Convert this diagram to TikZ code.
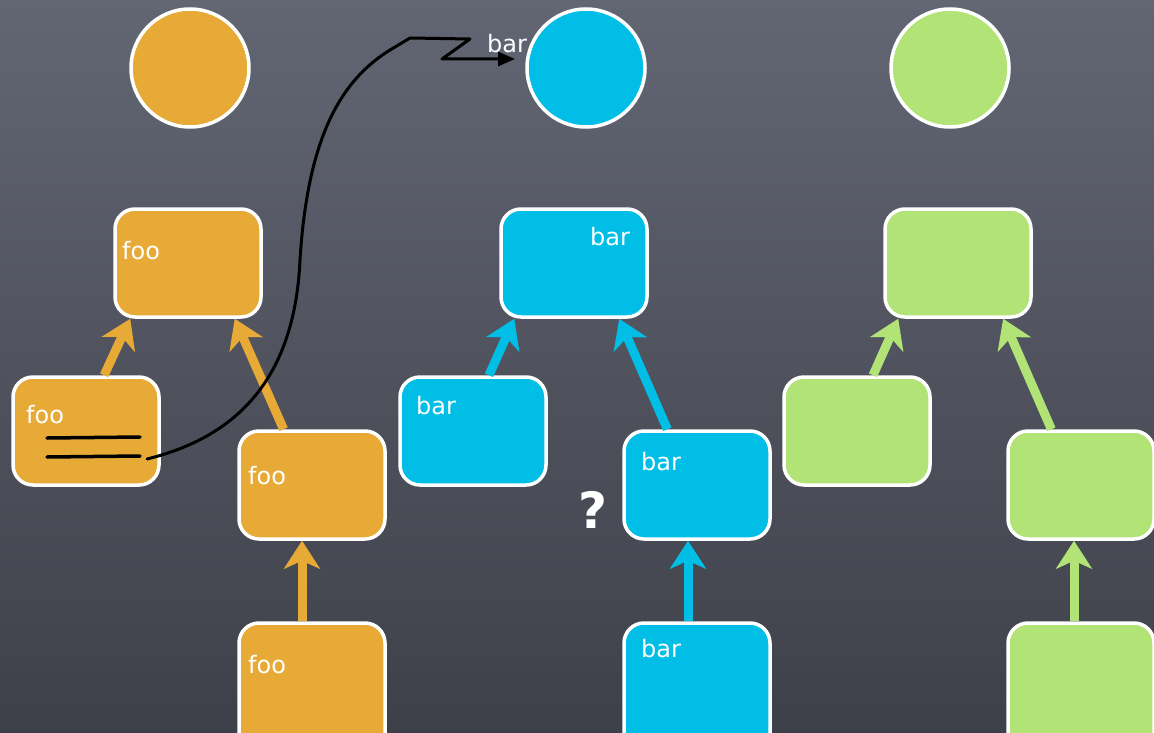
\documentclass[tikz,border=0pt]{standalone}
\usepackage{fontspec}
\setmainfont{DejaVu Sans}
\usetikzlibrary{arrows.meta,calc,positioning,shapes}
\tikzset{
  boxnode/.style = {draw=white, line width=3.5pt, rounded corners=20pt, minimum width=146pt,
  minimum height=108pt, inner sep=0pt},
  circnode/.style = {draw=white, line width=3.5pt, circle, minimum size=118pt, inner sep=0pt},
  lbl/.style = {anchor=base west, inner sep=0pt, text=white, font=\fontsize{24}{28}\selectfont},
  up/.style = {line width=9pt, -{Stealth[length=28pt,width=36pt,inset=8pt]}},
  scribble/.style = {black, line width=3pt, line cap=round, line join=round}
}
\definecolor{my_board_top}{RGB}{98,102,115}
\definecolor{my_board_bot}{RGB}{62,64,73}
\definecolor{my_orange}{RGB}{232,170,54}
\definecolor{my_blue}{RGB}{0,190,230}
\definecolor{my_green}{RGB}{178,227,118}
\begin{document}
\begin{tikzpicture}[x=1pt,y=-1pt,
        	orange/.style={fill=my_orange},
        	blue/.style={fill=my_blue},
        	green/.style={fill=my_green},
        	bottom/.style={minimum height=130pt}]
  \shade[top color=my_board_top, bottom color=my_board_bot] (0,0) rectangle (1154,733);
  \useasboundingbox (0,0) rectangle (1154,733);
  \clip (0,0) rectangle (1154,733);

  % circles
  \node [circnode, orange] (oc) at (190,68) {};
  \node [circnode, blue] (bc) at (586,68) {};
  \node [circnode, green] (gc) at (950,68) {};

  % orange
  \node [boxnode, orange] (ot) at (188,263) {};
  \node [boxnode, orange] (ol) at (86,431) {};
  \node [boxnode, orange] (om) at (312,485) {};
  \node [boxnode, orange, bottom] (ob) at (312,688) {};
  \node [lbl] (ot-txt) at (122,259) {foo};
  \node [lbl] (ol-txt) at (26,423) {foo};
  \node [lbl] (om-txt) at (248,484) {foo};
  \node [lbl] (ob-txt) at (248,673) {foo};
  \draw [up, my_orange] (ol.72) -- (ot.-136);
  \draw [up, my_orange] (om.117) -- (ot.-50);
  \draw [up, my_orange] ($(ob.north)+(-10,0)$) -- ($(om.south)+(-10,0)$);

  % blue
  \node [boxnode, blue] (bt) at (574,263) {};
  \node [boxnode, blue] (bl) at (473,431) {};
  \node [boxnode, blue] (bm) at (697,485) {};
  \node [boxnode, blue, bottom] (bb) at (697,688) {};
  \node [lbl] (bt-txt) at (590,245) {bar};
  \node [lbl] (bl-txt) at (416,414) {bar};
  \node [lbl] (bm-txt) at (641,470) {bar};
  \node [lbl] (bb-txt) at (641,657) {bar};
  \draw [up, my_blue] (bl.74) -- (bt.-137);
  \draw [up, my_blue] (bm.118) -- (bt.-51);
  \draw [up, my_blue] ($(bb.north)+(-9,0)$) -- ($(bm.south)+(-9,0)$);
  \node [text=white, font=\fontsize{50}{50}\selectfont\bfseries] (q) at (593,510) {?};

  % green
  \node [boxnode, green] (gt) at (958,263) {};
  \node [boxnode, green] (gl) at (857,431) {};
  \node [boxnode, green] (gm) at (1081,485) {};
  \node [boxnode, green, bottom] (gb) at (1081,688) {};
  \draw [up, my_green] (gl.74) -- (gt.-137);
  \draw [up, my_green] (gm.118) -- (gt.-51);
  \draw [up, my_green] ($(gb.north)+(-7,0)$) -- ($(gm.south)+(-7,0)$);

  % scribble from the first foo up to bar
  \draw [scribble, line width=3.5pt] (47,438) -- (140,437);
  \draw [scribble, line width=3.5pt] (47,457) -- (140,456);
  \coordinate (from-foo) at (147,459);
  \coordinate (bend) at (300,260);
  \coordinate (kink) at (390,50);
  \coordinate (to-bar) at (515,59);
  \draw [scribble, -{Triangle[length=17pt,width=14pt]}]
    (from-foo) .. controls (245,435) and (295,370) .. (bend)
    .. controls (308,130) and (345,78) .. (kink)
    -- (410,38) -- (470,39) -- (442,59) -- (to-bar);
  \node [lbl] (bar-txt) at (487,53) {bar};
\end{tikzpicture}
\end{document}
